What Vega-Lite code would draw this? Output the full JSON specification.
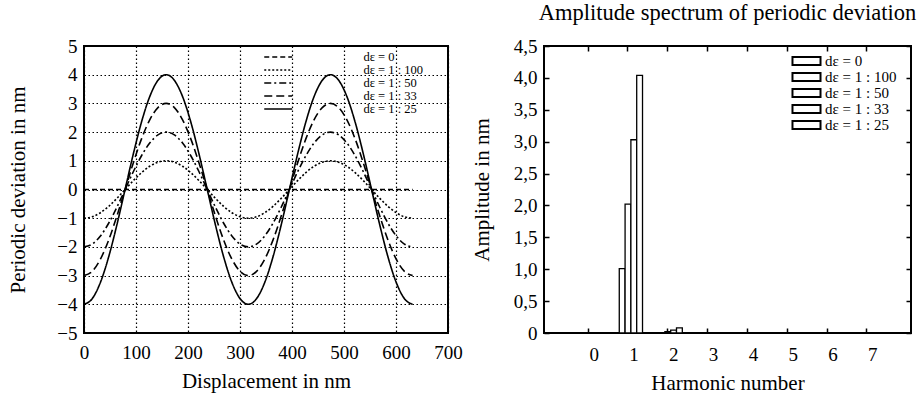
{
  "$schema": "https://vega.github.io/schema/vega-lite/v6.json",
  "padding": {"left": 6, "top": 0, "right": 5, "bottom": 2},
  "background": "white",
  "bounds": "flush",
  "spacing": 96,
  "resolve": {
    "scale": {"fill": "independent", "strokeDash": "independent"},
    "legend": {"fill": "independent", "strokeDash": "independent"}
  },
  "config": {
    "font": "Liberation Serif",
    "view": {"stroke": "black", "strokeWidth": 2},
    "axis": {
      "labelFont": "Liberation Serif",
      "titleFont": "Liberation Serif",
      "labelFontSize": 19,
      "titleFontSize": 21,
      "titleFontWeight": "normal",
      "labelColor": "black",
      "titleColor": "black",
      "domain": false,
      "labelFlush": false,
      "labelOverlap": false
    },
    "legend": {
      "labelFont": "Liberation Serif",
      "labelColor": "black",
      "padding": 0,
      "title": null
    }
  },
  "hconcat": [
    {
      "width": 364,
      "height": 287,
      "data": {
        "values": [
          {"x": 0, "0": 0, "100": -1, "50": -2, "33": -3, "25": -4},
          {"x": 15.8, "0": 0, "100": -0.951, "50": -1.902, "33": -2.853, "25": -3.804},
          {"x": 31.6, "0": 0, "100": -0.809, "50": -1.618, "33": -2.427, "25": -3.236},
          {"x": 47.4, "0": 0, "100": -0.588, "50": -1.176, "33": -1.763, "25": -2.351},
          {"x": 63.2, "0": 0, "100": -0.309, "50": -0.618, "33": -0.927, "25": -1.236},
          {"x": 79, "0": 0, "100": 0, "50": 0, "33": 0, "25": 0},
          {"x": 94.8, "0": 0, "100": 0.309, "50": 0.618, "33": 0.927, "25": 1.236},
          {"x": 110.6, "0": 0, "100": 0.588, "50": 1.176, "33": 1.763, "25": 2.351},
          {"x": 126.4, "0": 0, "100": 0.809, "50": 1.618, "33": 2.427, "25": 3.236},
          {"x": 142.2, "0": 0, "100": 0.951, "50": 1.902, "33": 2.853, "25": 3.804},
          {"x": 158, "0": 0, "100": 1, "50": 2, "33": 3, "25": 4},
          {"x": 173.8, "0": 0, "100": 0.951, "50": 1.902, "33": 2.853, "25": 3.804},
          {"x": 189.6, "0": 0, "100": 0.809, "50": 1.618, "33": 2.427, "25": 3.236},
          {"x": 205.4, "0": 0, "100": 0.588, "50": 1.176, "33": 1.763, "25": 2.351},
          {"x": 221.2, "0": 0, "100": 0.309, "50": 0.618, "33": 0.927, "25": 1.236},
          {"x": 237, "0": 0, "100": 0, "50": 0, "33": 0, "25": 0},
          {"x": 252.8, "0": 0, "100": -0.309, "50": -0.618, "33": -0.927, "25": -1.236},
          {"x": 268.6, "0": 0, "100": -0.588, "50": -1.176, "33": -1.763, "25": -2.351},
          {"x": 284.4, "0": 0, "100": -0.809, "50": -1.618, "33": -2.427, "25": -3.236},
          {"x": 300.2, "0": 0, "100": -0.951, "50": -1.902, "33": -2.853, "25": -3.804},
          {"x": 316, "0": 0, "100": -1, "50": -2, "33": -3, "25": -4},
          {"x": 331.8, "0": 0, "100": -0.951, "50": -1.902, "33": -2.853, "25": -3.804},
          {"x": 347.6, "0": 0, "100": -0.809, "50": -1.618, "33": -2.427, "25": -3.236},
          {"x": 363.4, "0": 0, "100": -0.588, "50": -1.176, "33": -1.763, "25": -2.351},
          {"x": 379.2, "0": 0, "100": -0.309, "50": -0.618, "33": -0.927, "25": -1.236},
          {"x": 395, "0": 0, "100": 0, "50": 0, "33": 0, "25": 0},
          {"x": 410.8, "0": 0, "100": 0.309, "50": 0.618, "33": 0.927, "25": 1.236},
          {"x": 426.6, "0": 0, "100": 0.588, "50": 1.176, "33": 1.763, "25": 2.351},
          {"x": 442.4, "0": 0, "100": 0.809, "50": 1.618, "33": 2.427, "25": 3.236},
          {"x": 458.2, "0": 0, "100": 0.951, "50": 1.902, "33": 2.853, "25": 3.804},
          {"x": 474, "0": 0, "100": 1, "50": 2, "33": 3, "25": 4},
          {"x": 489.8, "0": 0, "100": 0.951, "50": 1.902, "33": 2.853, "25": 3.804},
          {"x": 505.6, "0": 0, "100": 0.809, "50": 1.618, "33": 2.427, "25": 3.236},
          {"x": 521.4, "0": 0, "100": 0.588, "50": 1.176, "33": 1.763, "25": 2.351},
          {"x": 537.2, "0": 0, "100": 0.309, "50": 0.618, "33": 0.927, "25": 1.236},
          {"x": 553, "0": 0, "100": 0, "50": 0, "33": 0, "25": 0},
          {"x": 568.8, "0": 0, "100": -0.309, "50": -0.618, "33": -0.927, "25": -1.236},
          {"x": 584.6, "0": 0, "100": -0.588, "50": -1.176, "33": -1.763, "25": -2.351},
          {"x": 600.4, "0": 0, "100": -0.809, "50": -1.618, "33": -2.427, "25": -3.236},
          {"x": 616.2, "0": 0, "100": -0.951, "50": -1.902, "33": -2.853, "25": -3.804},
          {"x": 632, "0": 0, "100": -1, "50": -2, "33": -3, "25": -4}
        ]
      },
      "transform": [{"fold": ["0", "100", "50", "33", "25"], "as": ["s", "y"]}],
      "mark": {"type": "line", "color": "black", "strokeWidth": 1.6, "interpolate": "monotone"},
      "encoding": {
        "x": {
          "field": "x", "type": "quantitative",
          "scale": {"domain": [0, 700], "nice": false},
          "axis": {
            "values": [0, 100, 200, 300, 400, 500, 600, 700],
            "grid": true, "gridDash": [1.5, 2.5], "gridColor": "black", "gridOpacity": 1, "gridWidth": 1.2,
            "ticks": false, "labelPadding": 10, "titlePadding": 8,
            "title": "Displacement in nm"
          }
        },
        "y": {
          "field": "y", "type": "quantitative",
          "scale": {"domain": [-5, 5], "nice": false},
          "axis": {
            "values": [-5, -4, -3, -2, -1, 0, 1, 2, 3, 4, 5],
            "grid": true, "gridDash": [1.5, 2.5], "gridColor": "black", "gridOpacity": 1, "gridWidth": 1.2,
            "ticks": false, "labelPadding": 7, "titlePadding": 28,
            "title": "Periodic deviation in nm"
          }
        },
        "strokeDash": {
          "field": "s", "type": "nominal",
          "scale": {"domain": ["0", "100", "50", "33", "25"], "range": [[5, 3], [2, 2], [7, 3, 2, 3], [8, 4], [1, 0]]},
          "legend": {
            "orient": "none", "legendX": 179, "legendY": 6,
            "symbolType": "M-1.25,0H5.75", "symbolSize": 64,
            "symbolStrokeColor": "black", "symbolStrokeWidth": 1.6,
            "labelFontSize": 12.5,
            "clipHeight": 10,
            "labelOffset": 88, "rowPadding": 0,
            "labelExpr": "datum.label == '0' ? 'dε = 0' : 'dε = 1 : ' + datum.label"
          }
        }
      }
    },
    {
      "width": 367,
      "height": 287,
      "title": {"text": "Amplitude spectrum of periodic deviation", "font": "Liberation Serif", "fontSize": 22.5, "fontWeight": "normal", "color": "black", "offset": 13},
      "data": {
        "values": [
          {"h": 0, "g": "0", "a": 0}, {"h": 0, "g": "100", "a": 0}, {"h": 0, "g": "50", "a": 0}, {"h": 0, "g": "33", "a": 0}, {"h": 0, "g": "25", "a": 0},
          {"h": 1, "g": "0", "a": 0}, {"h": 1, "g": "100", "a": 1.01}, {"h": 1, "g": "50", "a": 2.02}, {"h": 1, "g": "33", "a": 3.03}, {"h": 1, "g": "25", "a": 4.04},
          {"h": 2, "g": "0", "a": 0}, {"h": 2, "g": "100", "a": 0.005}, {"h": 2, "g": "50", "a": 0.02}, {"h": 2, "g": "33", "a": 0.045}, {"h": 2, "g": "25", "a": 0.08},
          {"h": 3, "g": "0", "a": 0}, {"h": 3, "g": "100", "a": 0}, {"h": 3, "g": "50", "a": 0}, {"h": 3, "g": "33", "a": 0}, {"h": 3, "g": "25", "a": 0},
          {"h": 4, "g": "0", "a": 0}, {"h": 4, "g": "100", "a": 0}, {"h": 4, "g": "50", "a": 0}, {"h": 4, "g": "33", "a": 0}, {"h": 4, "g": "25", "a": 0},
          {"h": 5, "g": "0", "a": 0}, {"h": 5, "g": "100", "a": 0}, {"h": 5, "g": "50", "a": 0}, {"h": 5, "g": "33", "a": 0}, {"h": 5, "g": "25", "a": 0},
          {"h": 6, "g": "0", "a": 0}, {"h": 6, "g": "100", "a": 0}, {"h": 6, "g": "50", "a": 0}, {"h": 6, "g": "33", "a": 0}, {"h": 6, "g": "25", "a": 0},
          {"h": 7, "g": "0", "a": 0}, {"h": 7, "g": "100", "a": 0}, {"h": 7, "g": "50", "a": 0}, {"h": 7, "g": "33", "a": 0}, {"h": 7, "g": "25", "a": 0}
        ]
      },
      "layer": [
        {
          "mark": {"type": "bar", "stroke": "black", "strokeWidth": 1.3},
          "encoding": {
            "x": {
              "field": "h", "type": "ordinal",
              "scale": {"domain": [0, 1, 2, 3, 4, 5, 6, 7], "paddingInner": 0.27, "paddingOuter": 0.745, "align": 0.5},
              "axis": {"labelAngle": 0, "tickSize": -5, "tickColor": "black", "tickWidth": 1.5, "labelPadding": 17, "labelOffset": 6, "titlePadding": 8, "title": "Harmonic number"}
            },
            "xOffset": {"field": "g", "type": "nominal", "sort": ["0", "100", "50", "33", "25"], "scale": {"paddingInner": 0, "paddingOuter": 0}},
            "y": {
              "field": "a", "type": "quantitative",
              "scale": {"domain": [0, 4.5], "nice": false},
              "axis": {
                "values": [0, 0.5, 1, 1.5, 2, 2.5, 3, 3.5, 4, 4.5],
                "labelExpr": "datum.value == 0 ? '0' : replace(format(datum.value, '.1f'), '.', ',')",
                "grid": false, "tickSize": -5, "tickColor": "black", "tickWidth": 1.5, "labelPadding": 12, "titlePadding": 21,
                "title": "Amplitude in nm"
              }
            },
            "fill": {
              "field": "g", "type": "nominal",
              "scale": {"domain": ["0", "100", "50", "33", "25"], "range": ["white", "white", "white", "white", "white"]},
              "legend": {
                "orient": "none", "legendX": 247, "legendY": 9.5,
                "symbolType": "M-1.29,-0.86H4.72V0.86H-1.29Z", "symbolSize": 87,
                "symbolStrokeColor": "black", "symbolStrokeWidth": 2, "symbolFillColor": "white",
                "labelFontSize": 15,
                "clipHeight": 11,
                "labelOffset": 19, "rowPadding": 0,
                "labelExpr": "datum.label == '0' ? 'dε = 0' : 'dε = 1 : ' + datum.label"
              }
            }
          }
        },
        {
          "mark": {"type": "point", "opacity": 0},
          "encoding": {
            "x": {"field": "h", "type": "ordinal", "axis": {"orient": "top", "labels": false, "tickSize": -5, "tickColor": "black", "tickWidth": 1.5, "title": null}},
            "y": {"field": "a", "type": "quantitative", "axis": {"orient": "right", "labels": false, "values": [0, 0.5, 1, 1.5, 2, 2.5, 3, 3.5, 4, 4.5], "tickSize": -5, "tickColor": "black", "tickWidth": 1.5, "title": null}}
          }
        }
      ],
      "resolve": {"axis": {"x": "independent", "y": "independent"}}
    }
  ]
}
